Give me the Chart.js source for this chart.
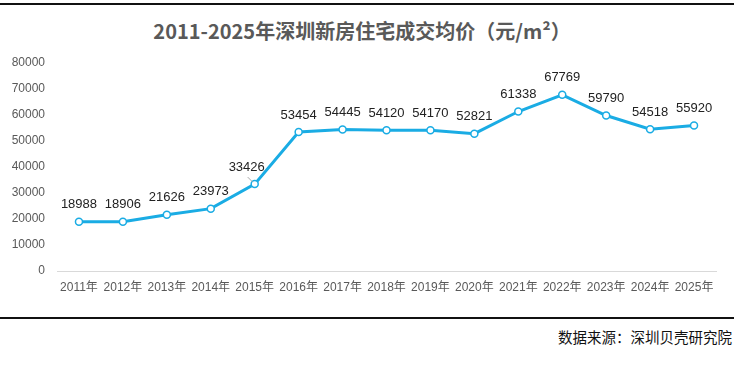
<!DOCTYPE html>
<html>
<head>
<meta charset="utf-8">
<script src="https://cdn.jsdelivr.net/npm/chart.js@4.4.1/dist/chart.umd.min.js"></script>
<style>
    body { margin: 0; background: #fff; width: 737px; height: 375px; position: relative; overflow: hidden; }
    .rule { position: absolute; left: 0; width: 734px; height: 2px; background: #111; }
    #title { position: absolute; left: 0; top: 17px; width: 724px; text-align: center;
             font: bold 20px "Noto Sans CJK SC", sans-serif; color: #595959; line-height: 28px; }
    #source { position: absolute; right: 5px; top: 327px; font: 14.5px "Noto Sans CJK SC", sans-serif;
              color: #111; line-height: 20px; }
    #chart { position: absolute; left: 0; top: 0; }
</style>
</head>
<body>
<div class="rule" style="top:3px"></div>
<div id="title">2011-2025年深圳新房住宅成交均价（元/m²）</div>
<canvas id="chart" width="737" height="300"></canvas>
<div class="rule" style="top:317px"></div>
<div id="source">数据来源：深圳贝壳研究院</div>
<script>
const years = ["2011年", "2012年", "2013年", "2014年", "2015年", "2016年", "2017年", "2018年",
    "2019年", "2020年", "2021年", "2022年", "2023年", "2024年", "2025年"];
const prices = [18988, 18906, 21626, 23973, 33426, 53454, 54445, 54120,
    54170, 52821, 61338, 67769, 59790, 54518, 55920];
const yTicks = [0, 10000, 20000, 30000, 40000, 50000, 60000, 70000, 80000];

const lineColor = "#1aace4";
// label for 2015 sits up-left with a small leader line
const shiftedLabel = { index: 4, dx: -8 };

const labelPlugin = {
    id: "pointLabels",
    afterDatasetsDraw(chart) {
        const ctx = chart.ctx;
        const meta = chart.getDatasetMeta(0);
        ctx.save();
        ctx.font = "13px 'Liberation Sans', Arial, sans-serif";
        ctx.fillStyle = "#222";
        ctx.textAlign = "center";
        ctx.textBaseline = "middle";
        meta.data.forEach((pt, i) => {
            let dx = 0;
            if (i === shiftedLabel.index) {
                dx = shiftedLabel.dx;
                ctx.strokeStyle = "#a6a6a6";
                ctx.lineWidth = 1;
                ctx.beginPath();
                ctx.moveTo(pt.x - 7, pt.y - 7);
                ctx.lineTo(pt.x - 2, pt.y - 2);
                ctx.stroke();
            }
            ctx.fillText(prices[i], pt.x + dx, pt.y - 17);
        });
        ctx.restore();
    }
};

new Chart(document.getElementById("chart"), {
    type: "line",
    data: {
        labels: years,
        datasets: [{
            data: prices,
            borderColor: lineColor,
            borderWidth: 3,
            pointRadius: 3.5,
            pointBorderWidth: 1.5,
            pointBackgroundColor: "#fff",
            pointBorderColor: lineColor,
            tension: 0
        }]
    },
    options: {
        responsive: false,
        animation: false,
        layout: { padding: { top: 63, right: 21, left: 0, bottom: 0 } },
        plugins: { legend: { display: false }, tooltip: { enabled: false } },
        scales: {
            x: {
                offset: true,
                grid: { display: false, drawTicks: false },
                border: { display: true, color: "#d9d9d9", width: 1 },
                ticks: {
                    padding: 9,
                    maxRotation: 0,
                    autoSkip: false,
                    color: "#595959",
                    font: { size: 12, family: "'Liberation Sans', 'Noto Sans CJK SC', sans-serif" }
                },
                afterFit: s => { s.height = 29; }
            },
            y: {
                min: 0,
                max: 80000,
                grid: { display: false, drawTicks: false },
                border: { display: false },
                afterBuildTicks: s => { s.ticks = yTicks.map(v => ({ value: v })); },
                ticks: {
                    padding: 12,
                    color: "#595959",
                    callback: v => String(v),
                    font: { size: 12, family: "'Liberation Sans', Arial, sans-serif" }
                },
                afterFit: s => { s.width = 57; }
            }
        }
    },
    plugins: [labelPlugin]
});
</script>
</body>
</html>
